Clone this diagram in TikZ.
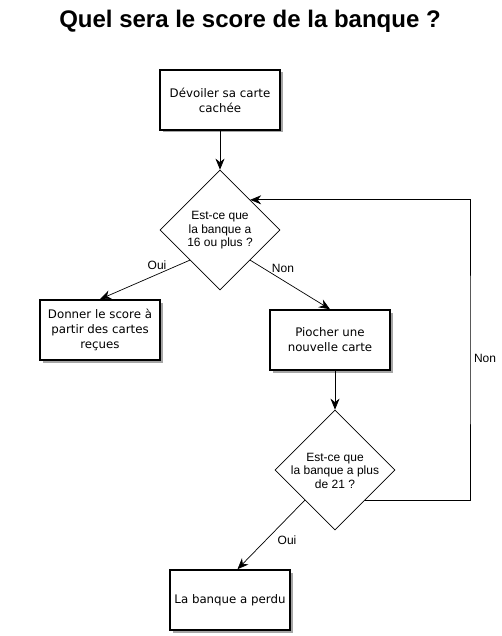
\documentclass[tikz,border=0pt]{standalone}
\usepackage{fontspec}
\setmainfont{Liberation Sans}
\newfontfamily\boxfont{DejaVu Sans}
\usetikzlibrary{shapes.geometric,arrows.meta,calc,shadows}
\begin{document}
\begin{tikzpicture}[x=1pt,y=-1pt,
  procbox/.style={draw, line width=1.6pt, minimum width=120pt, minimum height=60pt,
    inner sep=0pt, fill=white, align=center,
    font=\boxfont\fontsize{11.8}{15}\selectfont,
    drop shadow={shadow xshift=2.5pt, shadow yshift=-2.5pt, fill=black, opacity=0.35}},
  decision/.style={draw, diamond, minimum width=120pt, minimum height=120pt,
    inner sep=0pt, line width=0.7pt},
  dtext/.style={align=center, inner sep=0pt, font=\fontsize{12}{13.5}\selectfont},
  elabel/.style={inner sep=1pt, font=\fontsize{12}{14}\selectfont},
  arr/.style={line width=0.7pt, -{Stealth[length=11pt,width=9pt,inset=3.5pt]}},
]
\useasboundingbox (0,0) rectangle (501,636);
\fill[white] (0,0) rectangle (501,636);

\node[anchor=base, font=\bfseries\fontsize{24}{28}\selectfont] (title) at (250,28) {Quel sera le score de la banque ?};

\node[procbox] (b1) at (220,100) {Dévoiler sa carte\\cachée};
\node[decision] (d1) at (220,230) {};
\node[dtext] (d1t) at (220,230.5) {Est-ce que\\la banque a\\16 ou plus ?};
\node[procbox] (b2) at (100,330) {Donner le score à\\partir des cartes\\reçues};
\node[procbox] (b3) at (330,340) {Piocher une\\nouvelle carte};
\node[decision] (d2) at (335,470) {};
\node[dtext] (d2t) at (335,470.5) {Est-ce que\\la banque a plus\\de 21 ?};
\node[procbox] (b4) at (230,600) {La banque a perdu};

\coordinate (d1sw) at ($(d1.south)!0.5!(d1.west)$);
\coordinate (d1se) at ($(d1.south)!0.5!(d1.east)$);
\coordinate (d1ne) at ($(d1.north)!0.5!(d1.east)$);
\coordinate (d2sw) at ($(d2.south)!0.5!(d2.west)$);
\coordinate (d2se) at ($(d2.south)!0.5!(d2.east)$);
\coordinate (b4in) at ($(b4.north)+(7.5,0)$);
\coordinate (loopx) at (470,350);

\draw[arr] (b1.south) -- (d1.north);
\draw[arr] (d1sw) -- (b2.north);
\draw[arr] (d1se) -- (b3.north);
\draw[arr] (d2.north |- b3.south) -- (d2.north);
\draw[arr] (d2sw) -- (b4in);
\draw[arr] (d2se) -| (loopx) |- (d1ne);

\node[elabel] (loui1) at (157,265) {Oui};
\node[elabel] (lnon1) at (283,268) {Non};
\node[elabel] (lnon2) at (485,358) {Non};
\node[elabel] (loui2) at (287,540) {Oui};
\end{tikzpicture}
\end{document}
